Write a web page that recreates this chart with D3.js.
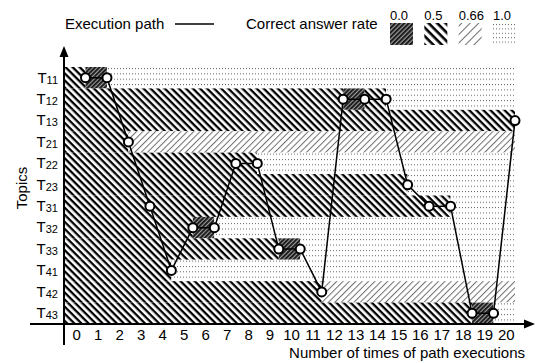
<!DOCTYPE html>
<html>
<head>
<meta charset="utf-8">
<script src="https://cdn.jsdelivr.net/npm/d3@7"></script>
<style>
body{margin:0;background:#fff;}
text{font-family:"Liberation Sans",Arial,sans-serif;fill:#000;}
</style>
</head>
<body>
<script>
//topics on the vertical axis, top to bottom
var topics = ["T11", "T12", "T13", "T21", "T22", "T23", "T31", "T32", "T33", "T41", "T42", "T43"];

//number of path executions (tick labels)
var stepLabels = [0, 1, 2, 3, 4, 5, 6, 7, 8, 9, 10, 11, 12, 13, 14, 15, 16, 17, 18, 19, 20];

//topic visited at each execution
var pathTopics = ["T11", "T11", "T21", "T31", "T41", "T32", "T32", "T22", "T22", "T33", "T33",
    "T42", "T12", "T12", "T12", "T23", "T31", "T31", "T43", "T43", "T13"];

//correct answer rate per topic over time: [topic, from step, to step, rate] (-1 = left edge)
var rateSegments = [
    ["T11", -1, 0, 0.5], ["T11", 0, 1, 0.0], ["T11", 1, 20, 1.0],
    ["T12", -1, 12, 0.5], ["T12", 12, 13, 0.0], ["T12", 13, 14, 0.5], ["T12", 14, 20, 1.0],
    ["T13", -1, 20, 0.5],
    ["T21", -1, 2, 0.5], ["T21", 2, 20, 0.66],
    ["T22", -1, 8, 0.5], ["T22", 8, 20, 1.0],
    ["T23", -1, 15, 0.5], ["T23", 15, 20, 1.0],
    ["T31", -1, 17, 0.5], ["T31", 17, 20, 1.0],
    ["T32", -1, 5, 0.5], ["T32", 5, 6, 0.0], ["T32", 6, 20, 1.0],
    ["T33", -1, 9, 0.5], ["T33", 9, 10, 0.0], ["T33", 10, 20, 1.0],
    ["T41", -1, 4, 0.5], ["T41", 4, 20, 1.0],
    ["T42", -1, 11, 0.5], ["T42", 11, 20, 0.66],
    ["T43", -1, 18, 0.5], ["T43", 18, 19, 0.0], ["T43", 19, 20, 1.0]
];

//legend rates
var rates = [0.0, 0.5, 0.66, 1.0];
var rateLabels = ["0.0", "0.5", "0.66", "1.0"];

window.onload = setChart;

function setChart(){
    var width = 540,
        height = 363;

    var svg = d3.select("body")
        .append("svg")
        .attr("width", width)
        .attr("height", height);

    var defs = svg.append("defs");
    makePatterns(defs);

    //point of step s sits at x(s); left edge of the plot is x(-1)
    var x = d3.scaleLinear()
        .domain([-1, 20])
        .range([64, 515]);

    var y = d3.scaleBand()
        .domain(topics)
        .range([67, 324]);

    //background bands of correct answer rate
    svg.append("g")
        .selectAll("rect")
        .data(rateSegments)
        .enter()
        .append("rect")
        .attr("x", function(d){ return x(d[1]); })
        .attr("width", function(d){ return x(d[2]) - x(d[1]); })
        .attr("y", function(d){ return y(d[0]); })
        .attr("height", y.bandwidth())
        .attr("fill", function(d){ return "url(#" + patternId(d[3], "") + ")"; });

    //execution path
    var line = d3.line()
        .x(function(d, i){ return x(stepLabels[i]); })
        .y(function(d){ return y(d) + y.bandwidth() / 2; });

    svg.append("path")
        .datum(pathTopics)
        .attr("d", line)
        .attr("fill", "none")
        .attr("stroke", "#000")
        .attr("stroke-width", 1.5);

    svg.append("g")
        .selectAll("circle")
        .data(pathTopics)
        .enter()
        .append("circle")
        .attr("cx", function(d, i){ return x(stepLabels[i]); })
        .attr("cy", function(d){ return y(d) + y.bandwidth() / 2; })
        .attr("r", 4.5)
        .attr("fill", "#fff")
        .attr("stroke", "#000")
        .attr("stroke-width", 2);

    //axis lines with arrows
    svg.append("line")
        .attr("x1", 30).attr("x2", 527)
        .attr("y1", 324).attr("y2", 324)
        .attr("stroke", "#000").attr("stroke-width", 2);
    svg.append("path")
        .attr("d", "M535,324L524,319.5L524,328.5Z")
        .attr("fill", "#000");
    svg.append("line")
        .attr("x1", 64).attr("x2", 64)
        .attr("y1", 55).attr("y2", 345)
        .attr("stroke", "#000").attr("stroke-width", 2);
    svg.append("path")
        .attr("d", "M64,46L59.5,57L68.5,57Z")
        .attr("fill", "#000");

    //x tick labels, centred in each execution cell
    var xBand = d3.scaleBand()
        .domain(stepLabels)
        .range([x(-1), x(20)]);

    var xAxis = svg.append("g")
        .attr("transform", "translate(2,324)")
        .call(d3.axisBottom(xBand).tickSize(0).tickPadding(5))
        .attr("font-size", 15)
        .attr("font-family", null);
    xAxis.select(".domain").remove();

    //y tick labels with subscripts
    var yAxis = svg.append("g")
        .attr("transform", "translate(61,0)")
        .call(d3.axisLeft(y).tickSize(0).tickPadding(3))
        .attr("font-size", 15)
        .attr("font-family", null);
    yAxis.select(".domain").remove();
    yAxis.selectAll(".tick text")
        .each(function(d){
            var t = d3.select(this).text(null);
            t.append("tspan").text(d.charAt(0));
            t.append("tspan").attr("font-size", 11).attr("dy", 1).text(d.slice(1));
        });

    //axis titles
    svg.append("text")
        .attr("x", 525)
        .attr("y", 358)
        .attr("text-anchor", "end")
        .attr("font-size", 15)
        .text("Number of times of path executions");

    svg.append("text")
        .attr("transform", "translate(27,188) rotate(-90)")
        .attr("text-anchor", "middle")
        .attr("font-size", 15)
        .text("Topics");

    setLegend(svg);
};

//legend across the top
function setLegend(svg){
    svg.append("text")
        .attr("x", 65)
        .attr("y", 29)
        .attr("font-size", 15)
        .text("Execution path");

    svg.append("line")
        .attr("x1", 175).attr("x2", 214)
        .attr("y1", 24).attr("y2", 24)
        .attr("stroke", "#000").attr("stroke-width", 1.5);

    svg.append("text")
        .attr("x", 246)
        .attr("y", 29)
        .attr("font-size", 15)
        .text("Correct answer rate");

    var lx = d3.scalePoint()
        .domain(rateLabels)
        .range([390, 493]);

    var items = svg.append("g")
        .selectAll("g")
        .data(rates)
        .enter()
        .append("g")
        .attr("transform", function(d, i){ return "translate(" + lx(rateLabels[i]) + ",0)"; });

    items.append("text")
        .attr("y", 20)
        .attr("font-size", 13)
        .text(function(d, i){ return rateLabels[i]; });

    items.append("rect")
        .attr("y", 23)
        .attr("width", 23)
        .attr("height", 22)
        .attr("fill", function(d){ return "url(#" + patternId(d, "L") + ")"; });
};

// HELPER FUNCTIONS

function patternId(rate, suffix){
    if (rate == 0) return "p00" + suffix;
    if (rate == 0.5) return "p05" + suffix;
    if (rate == 0.66) return "p066" + suffix;
    return "p10" + suffix;
};

function makePatterns(defs){
    //plot patterns
    stripePattern(defs, "p00", 3, -45, 1.9, "#1a1a1a", "#9a9a9a");
    stripePattern(defs, "p05", 5, 45, 2.3, "#000", "#fff");
    stripePattern(defs, "p066", 4.5, -45, 1, "#6e6e6e", "#fff");
    dotPattern(defs, "p10", 3, 21.4 / 4, "#666");

    //legend patterns (a bit coarser)
    stripePattern(defs, "p00L", 3.2, -45, 2, "#1a1a1a", "#9a9a9a");
    stripePattern(defs, "p05L", 6, 45, 2.6, "#000", "#fff");
    stripePattern(defs, "p066L", 6, -45, 1, "#6e6e6e", "#fff");
    dotPattern(defs, "p10L", 3, 4.4, "#666");
};

function stripePattern(defs, id, size, angle, lineWidth, color, background){
    var p = defs.append("pattern")
        .attr("id", id)
        .attr("patternUnits", "userSpaceOnUse")
        .attr("width", size)
        .attr("height", size)
        .attr("patternTransform", "rotate(" + angle + ")");
    p.append("rect")
        .attr("width", size)
        .attr("height", size)
        .attr("fill", background);
    p.append("rect")
        .attr("width", size)
        .attr("height", lineWidth)
        .attr("fill", color);
};

function dotPattern(defs, id, w, h, color){
    var p = defs.append("pattern")
        .attr("id", id)
        .attr("patternUnits", "userSpaceOnUse")
        .attr("width", w)
        .attr("height", h)
        .attr("y", 68);
    p.append("rect")
        .attr("width", w)
        .attr("height", h)
        .attr("fill", "#fff");
    p.append("rect")
        .attr("width", 1)
        .attr("height", 1)
        .attr("fill", color);
};
</script>
</body>
</html>
